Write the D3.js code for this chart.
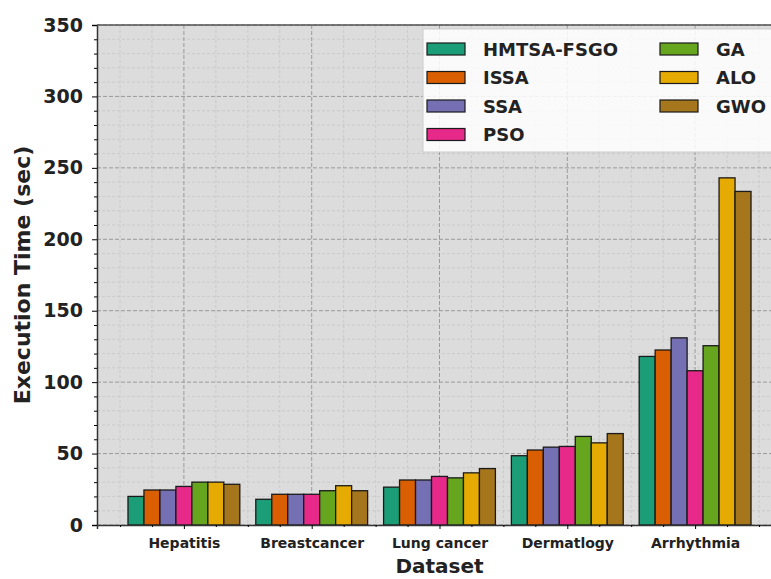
<!DOCTYPE html>
<html>
<head>
<meta charset="utf-8">
<script src="https://cdn.jsdelivr.net/npm/d3@7"></script>
<style>
  body { margin: 0; background: #fff; }
  text { font-family: "DejaVu Sans", sans-serif; font-weight: bold; }
</style>
</head>
<body>
<div id="chart-area"></div>
<script>
// data
const datasets = ["Hepatitis", "Breastcancer", "Lung cancer", "Dermatlogy", "Arrhythmia"]
const methods = ["HMTSA-FSGO", "ISSA", "SSA", "PSO", "GA", "ALO", "GWO"]
const hmtsa = [20, 18, 26.5, 48.5, 118]
const issa = [24.5, 21.5, 31.5, 52.5, 122.5]
const ssa = [24.5, 21.5, 31.5, 54.5, 131]
const pso = [27, 21.5, 34, 55, 108]
const ga = [30, 24, 33, 62, 125.5]
const alo = [30, 27.5, 36.5, 57.5, 243]
const gwo = [28.5, 24, 39.5, 64, 233.5]
const yTicks = [0, 50, 100, 150, 200, 250, 300, 350]

const series = [hmtsa, issa, ssa, pso, ga, alo, gwo]
const colors = ["#1b9e77", "#d95f02", "#7570b3", "#e7298a", "#66a61e", "#e6ab02", "#a6761d"]

const W = 771, H = 579
const LEFT = 97, TOP = 25, BOTTOM = 525
const BAR_W = 0.125

const svg = d3.select("#chart-area").append("svg")
  .attr("width", W)
  .attr("height", H)

const x = d3.scaleLinear().domain([-0.68, 4.68]).range([LEFT, 782])
const y = d3.scaleLinear().domain([0, 350]).range([BOTTOM, TOP])
const RIGHT = x(4.68)

// plot background
svg.append("rect")
  .attr("x", LEFT).attr("y", TOP)
  .attr("width", RIGHT - LEFT).attr("height", BOTTOM - TOP)
  .attr("fill", "#dcdcdc")

const grid = svg.append("g")
const yMinorVals = d3.range(0, 351, 10).filter(v => v % 50 !== 0)
const xMinorVals = d3.range(-0.5, 4.7, 0.25).filter(v => Math.abs(v - Math.round(v)) > 0.01)

// minor grid
yMinorVals.forEach(v => {
  grid.append("line")
    .attr("x1", LEFT).attr("x2", RIGHT)
    .attr("y1", y(v)).attr("y2", y(v))
    .attr("stroke", "#c6c6c6").attr("stroke-width", 0.8)
    .attr("stroke-dasharray", "3,2")
})
xMinorVals.forEach(v => {
  grid.append("line")
    .attr("x1", x(v)).attr("x2", x(v))
    .attr("y1", TOP).attr("y2", BOTTOM)
    .attr("stroke", "#c6c6c6").attr("stroke-width", 0.8)
    .attr("stroke-dasharray", "3,2")
})

// major grid
yTicks.forEach(v => {
  grid.append("line")
    .attr("x1", LEFT).attr("x2", RIGHT)
    .attr("y1", y(v)).attr("y2", y(v))
    .attr("stroke", "#9a9a9a").attr("stroke-width", 1)
    .attr("stroke-dasharray", "4,2")
})
datasets.forEach((d, i) => {
  grid.append("line")
    .attr("x1", x(i)).attr("x2", x(i))
    .attr("y1", TOP).attr("y2", BOTTOM)
    .attr("stroke", "#9a9a9a").attr("stroke-width", 1)
    .attr("stroke-dasharray", "4,2")
})

// bars
series.forEach((vals, s) => {
  svg.append("g").selectAll("rect")
    .data(vals)
    .enter().append("rect")
    .attr("x", (d, i) => x(i + (s - 3.5) * BAR_W))
    .attr("width", x(BAR_W) - x(0))
    .attr("y", d => y(d))
    .attr("height", d => BOTTOM - y(d))
    .attr("fill", colors[s])
    .attr("stroke", "#1a1a1a")
    .attr("stroke-width", 1.3)
})

// axes
const yAxis = d3.axisLeft(y).tickValues(yTicks).tickSize(5).tickPadding(9)
const yG = svg.append("g")
  .attr("transform", `translate(${LEFT},0)`)
  .call(yAxis)
yG.selectAll("text").attr("font-size", "19px").attr("fill", "#222")
yG.select(".domain").attr("stroke", "#333").attr("stroke-width", 1.5)

const yMinor = d3.axisLeft(y).tickValues(yMinorVals).tickSize(3).tickFormat("")
svg.append("g").attr("transform", `translate(${LEFT},0)`).call(yMinor)
  .call(g => g.select(".domain").remove())

const xAxis = d3.axisBottom(x).tickValues(d3.range(0, 5)).tickFormat(i => datasets[i]).tickSize(4).tickPadding(9)
const xG = svg.append("g")
  .attr("transform", `translate(0,${BOTTOM})`)
  .call(xAxis)
xG.selectAll("text").attr("font-size", "14px").attr("fill", "#222")
xG.select(".domain").attr("stroke", "#333").attr("stroke-width", 1.5)

const xMinor = d3.axisBottom(x).tickValues(xMinorVals).tickSize(2).tickFormat("")
svg.append("g").attr("transform", `translate(0,${BOTTOM})`).call(xMinor)
  .call(g => g.select(".domain").remove())

// top spine
svg.append("line")
  .attr("x1", LEFT).attr("x2", RIGHT)
  .attr("y1", TOP).attr("y2", TOP)
  .attr("stroke", "#555").attr("stroke-width", 1.5)

// labels
svg.append("text")
  .attr("x", (LEFT + RIGHT) / 2)
  .attr("y", 573)
  .attr("text-anchor", "middle")
  .attr("font-size", "20px")
  .attr("fill", "#222")
  .text("Dataset")

svg.append("text")
  .attr("transform", `translate(30,${(TOP + BOTTOM) / 2}) rotate(-90)`)
  .attr("text-anchor", "middle")
  .attr("font-size", "22px")
  .attr("fill", "#222")
  .text("Execution Time (sec)")

// legend
const legend = svg.append("g")
legend.append("rect")
  .attr("x", 423).attr("y", 29)
  .attr("width", 355).attr("height", 123)
  .attr("fill", "#ffffff").attr("fill-opacity", 0.85)
  .attr("stroke", "#cccccc")

methods.forEach((m, i) => {
  const col = i < 4 ? 0 : 1
  const row = i < 4 ? i : i - 4
  const lx = col === 0 ? 427 : 660
  const ly = 49 + row * 28.5
  legend.append("rect")
    .attr("x", lx).attr("y", ly - 6)
    .attr("width", 38).attr("height", 12)
    .attr("fill", colors[i])
    .attr("stroke", "#1a1a1a").attr("stroke-width", 1.2)
  legend.append("text")
    .attr("x", lx + 56).attr("y", ly + 6.5)
    .attr("font-size", "18px")
    .attr("fill", "#222")
    .text(m)
})
</script>
</body>
</html>
